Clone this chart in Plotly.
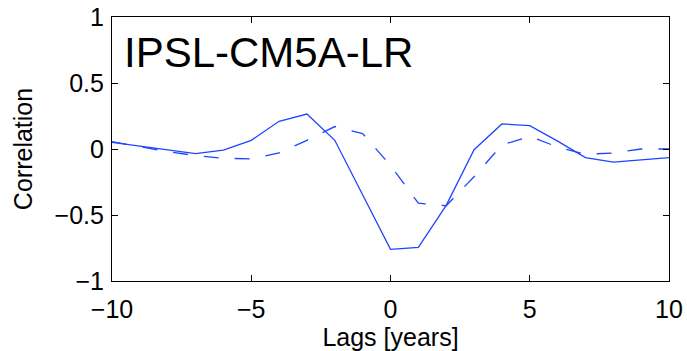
import plotly.graph_objects as go

lags = list(range(-10, 11))
solid_corr = [0.05, 0.02, -0.005, -0.035, -0.008, 0.066, 0.21, 0.265, 0.066, -0.35,
              -0.76, -0.745, -0.427, -0.005, 0.19, 0.177, 0.06, -0.065, -0.10, -0.083, -0.065]
dashed_corr = [0.056, 0.02, -0.02, -0.05, -0.07, -0.075, -0.03, 0.066, 0.17, 0.117,
               -0.125, -0.41, -0.43, -0.21, 0.03, 0.096, 0.015, -0.04, -0.03, 0.0, 0.0]

x_ticks = [-10, -5, 0, 5, 10]
y_ticks = [-1, -0.5, 0, 0.5, 1]
title_text = "IPSL-CM5A-LR"

line_color = "#1f45ff"
font_family = "Liberation Sans, Arial, Helvetica, sans-serif"
fs = 25

fig = go.Figure()
fig.add_trace(go.Scatter(x=lags, y=solid_corr, mode="lines",
                         line=dict(color=line_color, width=1.3), showlegend=False))
fig.add_trace(go.Scatter(x=lags, y=dashed_corr, mode="lines",
                         line=dict(color=line_color, width=1.3, dash="15px,16px"),
                         showlegend=False))

axis_common = dict(showgrid=False, zeroline=False, showline=True, linecolor="black",
                   linewidth=1.2, mirror="ticks", ticks="inside", ticklen=6,
                   tickcolor="black", tickwidth=1, automargin=False,
                   tickfont=dict(size=fs, color="black", family=font_family))

fig.update_xaxes(range=[-10, 10], tickvals=x_ticks, ticklabelstandoff=6,
                 title=dict(text="Lags [years]", standoff=2,
                            font=dict(size=fs, color="black", family=font_family)),
                 **axis_common)
fig.update_yaxes(range=[-1, 1], tickvals=y_ticks, ticklabelstandoff=2,
                 title=dict(text="Correlation", standoff=14,
                            font=dict(size=fs, color="black", family=font_family)),
                 **axis_common)

fig.add_annotation(text=title_text, xref="paper", yref="paper", x=0.018, y=0.864,
                   xanchor="left", yanchor="middle", showarrow=False,
                   font=dict(size=42, color="black", family=font_family))

fig.update_layout(width=687, height=351, margin=dict(l=112, r=18, t=17, b=70),
                  plot_bgcolor="white", paper_bgcolor="white")

fig.write_html("out.html")
